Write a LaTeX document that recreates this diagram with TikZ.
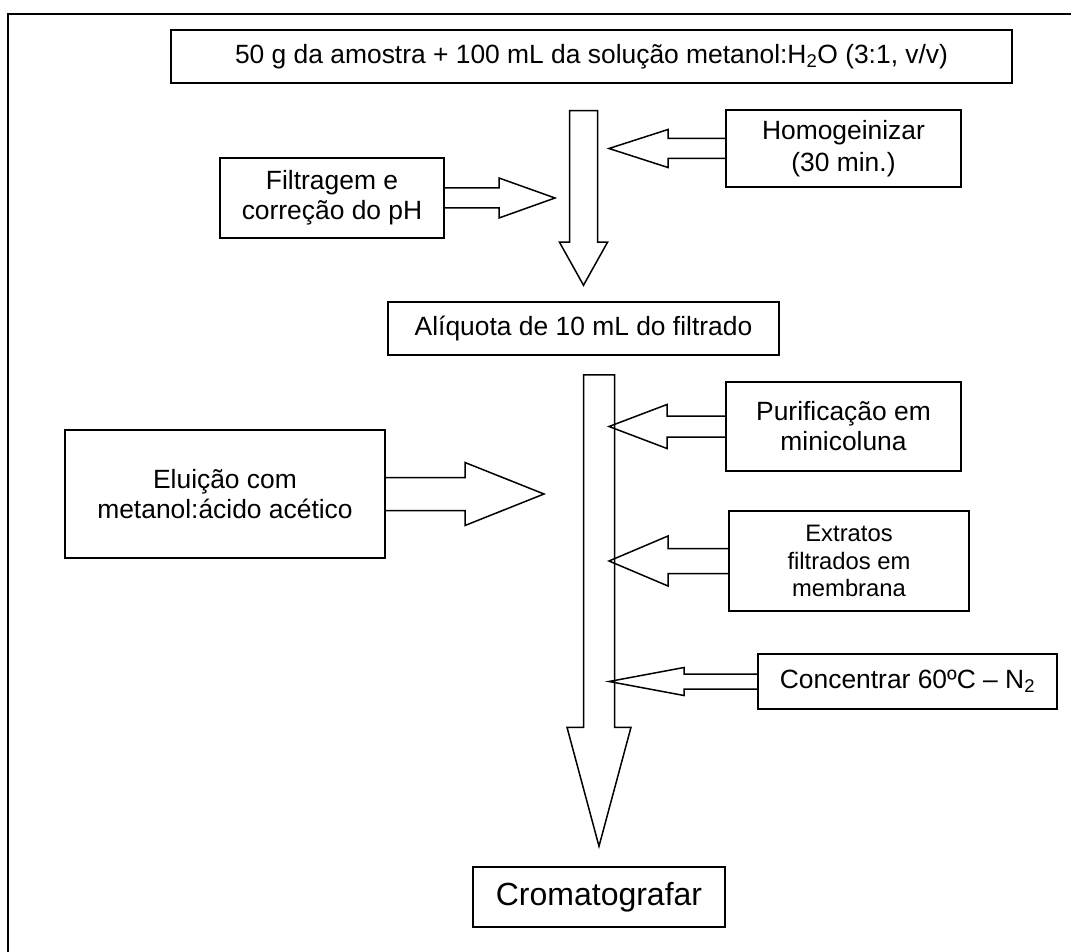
\documentclass[tikz,border=0pt]{standalone}
\usepackage{fontspec}
\setmainfont{Liberation Sans}
\usetikzlibrary{calc}
\tikzset{
  stepbox/.style={draw,line width=1.5pt,align=center,inner sep=0pt,
    font=\fontsize{26.4}{30}\selectfont},
  blockarr/.style={draw,line width=1.5pt,line join=miter}
}
% block arrow from a box side to a tip
\newcommand\sidearrow[5]{%
  \draw[blockarr] let \p1=(#1), \p2=(#2) in
    (\x1,\y1+#4) -- (\x2+#3,\y1+#4) -- (\x2+#3,\y1+#5) -- (\x2,\y1) --
    (\x2+#3,\y1-#5) -- (\x2+#3,\y1-#4) -- (\x1,\y1-#4);}
% main downward block arrow between two boxes
\newcommand\mainarrow[7]{%
  \draw[blockarr] let \p1=(#1), \p2=(#2) in
    (\x2-#5,\y1-#3) -- (\x2+#5,\y1-#3) -- (\x2+#5,\y2+#4+#7) --
    (\x2+#6,\y2+#4+#7) -- (\x2,\y2+#4) -- (\x2-#6,\y2+#4+#7) --
    (\x2-#5,\y2+#4+#7) -- cycle;}
\begin{document}
\begin{tikzpicture}[x=1pt,y=-1pt]
      \useasboundingbox (0,0) rectangle (1071,952);
      \draw[line width=2pt] (8,952) -- (8,14) -- (1071,14);
      \node[stepbox,minimum width=841,minimum height=53] (sample) at (591.5,56.5)
        {50 g da amostra + 100 mL da solução metanol:H\textsubscript{2}O (3:1, v/v)};
      \node[stepbox,minimum width=391,minimum height=53] (aliquot) at (583.5,328.5)
        {Alíquota de 10 mL do filtrado};
      \node[stepbox,minimum width=252,minimum height=60,font=\fontsize{32}{36}\selectfont]
        (chrom) at (599,897) {Cromatografar};
      \node[stepbox,minimum width=235,minimum height=77,font=\fontsize{26.4}{32}\selectfont]
        (homog) at (843.5,148.5) {Homogeinizar\\(30 min.)};
      \node[stepbox,minimum width=224,minimum height=80] (filter) at (332,198)
        {Filtragem e\\correção do pH};
      \node[stepbox,minimum width=235,minimum height=89] (purif) at (843.5,426.5)
        {Purificação em\\minicoluna};
      \node[stepbox,minimum width=320,minimum height=128] (elution) at (225,494)
        {Eluição com\\metanol:ácido acético};
      \node[stepbox,minimum width=240,minimum height=100,font=\fontsize{23.8}{27.5}\selectfont]
        (extract) at (849,561) {Extratos\\filtrados em\\membrana};
      \node[stepbox,minimum width=299,minimum height=55] (conc) at (907.5,681.5)
        {Concentrar 60ºC -- N\textsubscript{2}};
      \coordinate (rtip) at (609,0);
      \coordinate (ftip) at (555,0);
      \coordinate (etip) at (544,0);
      \mainarrow{sample.south}{aliquot.north}{27}{16}{14}{24}{43}
      \mainarrow{aliquot.south}{chrom.north}{19}{20}{15.5}{32}{119}
      \sidearrow{homog.west}{rtip}{59}{10}{19}
      \sidearrow{purif.west}{rtip}{58}{10.5}{22}
      \sidearrow{extract.west}{rtip}{59}{12.5}{25}
      \sidearrow{conc.west}{rtip}{75}{7.5}{14}
      \sidearrow{filter.east}{ftip}{-56}{10}{20}
      \sidearrow{elution.east}{etip}{-79}{16.5}{31.5}
    \end{tikzpicture}
\end{document}
